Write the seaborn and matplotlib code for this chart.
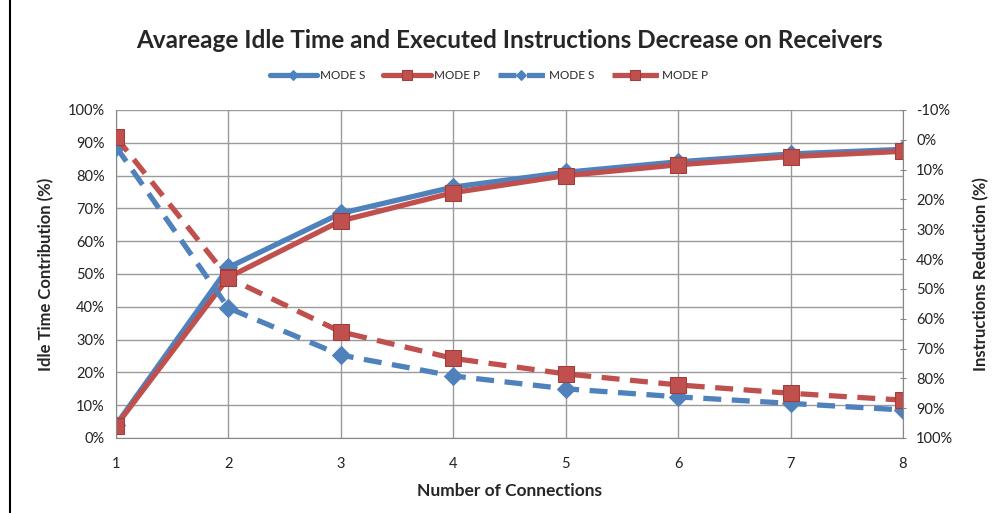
import matplotlib
matplotlib.use("Agg")
import matplotlib.pyplot as plt
import matplotlib.patches as mpatches
from matplotlib.ticker import FuncFormatter, MultipleLocator
import seaborn as sns

# data
connections = [1, 2, 3, 4, 5, 6, 7, 8]
idle_mode_s = [4, 52, 68.5, 76.5, 81, 84.2, 86.6, 88]
idle_mode_p = [3.7, 49, 66.2, 74.8, 80, 83.3, 85.8, 87.4]
instr_mode_s = [2.3, 56.4, 72.2, 79.2, 83.5, 86.2, 88.4, 90.6]
instr_mode_p = [-0.9, 46.3, 64.4, 73.3, 78.5, 82.2, 85, 87.3]

blue = "#4F81BD"
red = "#C0504D"

sns.set_style("white")
plt.rcParams['font.family'] = ['Lato', 'DejaVu Sans']

fig = plt.figure(figsize=(9.98, 5.13), dpi=100)
ax = fig.add_axes([0.1162, 0.1462, 0.7886, 0.6394])
ax2 = ax.twinx()

# solid lines on the left axis
sns.lineplot(x=connections, y=idle_mode_s, ax=ax, color=blue, lw=3.8,
             marker='D', markersize=9, markeredgecolor=blue, label='MODE S', legend=False)
sns.lineplot(x=connections, y=idle_mode_p, ax=ax, color=red, lw=3.8,
             marker='s', markersize=11, markeredgecolor='#A33B38', label='MODE P', legend=False)

# dashed lines on the right (reversed) axis
sns.lineplot(x=connections, y=instr_mode_s, ax=ax2, color=blue, lw=3.8,
             marker='D', markersize=9, markeredgecolor=blue, label='MODE S', legend=False)
sns.lineplot(x=connections, y=instr_mode_p, ax=ax2, color=red, lw=3.8,
             marker='s', markersize=11, markeredgecolor='#A33B38', label='MODE P', legend=False)
for ln in ax2.lines:
    ln.set_dashes((3.4, 2))

ax.set_xlim(1, 8)
ax.set_ylim(0, 100)
ax2.set_ylim(100, -10)
ax.yaxis.set_major_locator(MultipleLocator(10))
ax2.yaxis.set_major_locator(MultipleLocator(10))
pct = FuncFormatter(lambda v, p: f"{v:.0f}%")
ax.yaxis.set_major_formatter(pct)
ax2.yaxis.set_major_formatter(pct)
ax.set_xticks(connections)

ax.grid(True, color='#9A9A9A', lw=1)
ax.set_axisbelow(True)
ax.spines['top'].set_visible(False)
ax.spines['right'].set_visible(False)
ax2.spines['top'].set_visible(False)
ax2.spines['left'].set_visible(False)
ax2.spines['bottom'].set_visible(False)
ax2.spines['right'].set_color('#888888')
ax.spines['left'].set_color('#888888')
ax.spines['bottom'].set_color('#888888')

ax.tick_params(axis='x', labelsize=10.5, length=0, pad=14, colors='#222222')
ax.tick_params(axis='y', labelsize=10.5, length=0, pad=8, colors='#222222')
ax2.tick_params(axis='y', labelsize=10.5, length=5, direction='inout', color='#888888',
                pad=7, labelcolor='#222222')

ax.set_xlabel('Number of Connections', fontsize=12.5, fontweight='bold', labelpad=8)
ax.set_ylabel('Idle Time Contribution (%)', fontsize=12, fontweight='bold', labelpad=10)
ax2.set_ylabel('Instructions Reduction (%)', fontsize=12, fontweight='bold', labelpad=14)

fig.suptitle('Avareage Idle Time and Executed Instructions Decrease on Receivers',
             x=0.51, y=0.922, va='center', fontsize=17.5, fontweight='bold')

handles = ax.lines[:2] + ax2.lines[:2]
labels = ['MODE S', 'MODE P', 'MODE S', 'MODE P']
fig.legend(handles, labels, loc='center', bbox_to_anchor=(0.49, 0.853), ncol=4,
           frameon=False, fontsize=8.5, handlelength=4, columnspacing=1.5,
           handletextpad=0.3, markerscale=0.6)

fig.patches.append(mpatches.Rectangle((0.01, -0.01), 1.1, 1.02, transform=fig.transFigure,
                                      fill=False, edgecolor='black', lw=1.5))

fig.savefig('out.png', dpi=100)
